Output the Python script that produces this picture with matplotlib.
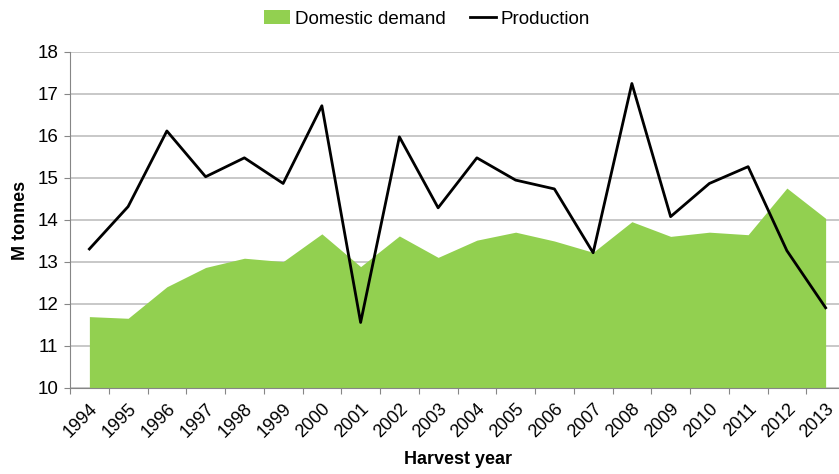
import matplotlib
matplotlib.use("Agg")
import matplotlib.pyplot as plt
from matplotlib.patches import Rectangle
from matplotlib.legend_handler import HandlerPatch
import numpy as np

years = [str(y) for y in range(1994, 2014)]
domestic_demand = [11.70, 11.66, 12.41, 12.87, 13.09, 13.01, 13.67, 12.89, 13.62, 13.11,
                   13.52, 13.71, 13.50, 13.23, 13.96, 13.61, 13.71, 13.65, 14.76, 14.04]
production = [13.31, 14.32, 16.12, 15.03, 15.48, 14.87, 16.72, 11.56, 15.98, 14.29,
              15.48, 14.95, 14.74, 13.22, 17.25, 14.08, 14.87, 15.27, 13.27, 11.91]

plt.rcParams['font.family'] = ['Liberation Sans', 'DejaVu Sans']
FS = 13.5

fig = plt.figure(figsize=(8.39, 4.74), dpi=100)
ax = fig.add_axes([70/839, 86/474, 775/839, 336/474])

x = np.arange(len(years))
ax.fill_between(x, 10, domestic_demand, color='#92D050', linewidth=0,
                label='Domestic demand', zorder=2)
ax.plot(x, production, color='black', linewidth=2.0, label='Production', zorder=3)

ax.set_ylim(10, 18)
ax.set_xlim(-0.5, len(years) - 0.5)
ax.set_yticks(range(10, 19))
ax.yaxis.grid(True, color='#BFBFBF', linewidth=1.2, zorder=0)
ax.set_axisbelow(True)

ax.set_xticks(np.arange(-0.5, len(years), 1.0))
ax.set_xticklabels([])
ax.set_xticks(x, minor=True)
ax.set_xticklabels(years, minor=True, rotation=45, ha='right', rotation_mode='anchor',
                   fontsize=13)
ax.tick_params(axis='x', which='minor', length=0, pad=9)
ax.tick_params(axis='x', which='major', length=4.5, color='#868686')
ax.tick_params(axis='y', length=4.5, color='#868686', labelsize=FS, pad=4)

for s in ['top', 'right']:
    ax.spines[s].set_visible(False)
for s in ['left', 'bottom']:
    ax.spines[s].set_color('#868686')

ax.set_ylabel('M tonnes', fontsize=13, fontweight='bold', labelpad=6)
ax.set_xlabel('Harvest year', fontsize=13, fontweight='bold', labelpad=7)


def thin_patch(legend, orig_handle, xdescent, ydescent, width, height, fontsize):
    h = height * 0.65
    return Rectangle((-xdescent, -ydescent + (height - h) / 2), width, h)


leg = fig.legend(loc='center', bbox_to_anchor=(427/839, 1 - 19/474), ncol=2, frameon=False,
                 fontsize=FS, handlelength=1.4, handletextpad=0.25, columnspacing=1.3,
                 handler_map={matplotlib.patches.Polygon: HandlerPatch(patch_func=thin_patch)})

fig.savefig('out.png', dpi=100)
